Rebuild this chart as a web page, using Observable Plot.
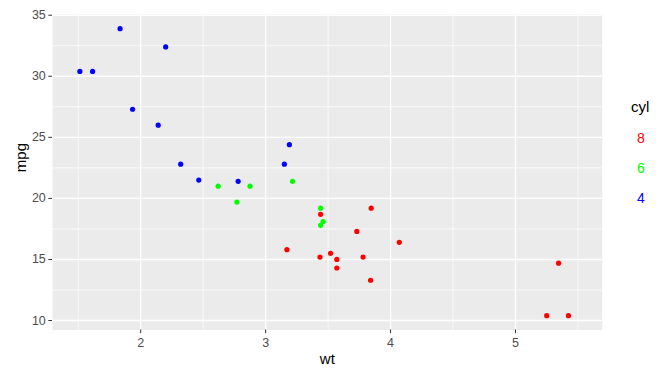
<!DOCTYPE html>
<html>
<head>
<meta charset="utf-8">
<script src="https://cdn.jsdelivr.net/npm/d3@7"></script>
<script src="https://cdn.jsdelivr.net/npm/@observablehq/plot@0.6"></script>
<style>
  html, body { margin: 0; padding: 0; background: white; }
  #wrap { position: relative; width: 669px; height: 380px; }
  .leg { position: absolute; font-family: 'Liberation Sans', Arial, sans-serif; white-space: nowrap; }
</style>
</head>
<body>
<div id="wrap"></div>
<script>
const wt  = [2.620, 2.875, 2.320, 3.215, 3.440, 3.460, 3.570, 3.190, 3.150, 3.440, 3.440, 4.070, 3.730, 3.780, 5.250, 5.424, 5.345, 2.200, 1.615, 1.835, 2.465, 3.520, 3.435, 3.840, 3.845, 1.935, 2.140, 1.513, 3.170, 2.770, 3.570, 2.780];
const mpg = [21.0, 21.0, 22.8, 21.4, 18.7, 18.1, 14.3, 24.4, 22.8, 19.2, 17.8, 16.4, 17.3, 15.2, 10.4, 10.4, 14.7, 32.4, 30.4, 33.9, 21.5, 15.5, 15.2, 13.3, 19.2, 27.3, 26.0, 30.4, 15.8, 19.7, 15.0, 21.4];
const cyl = [6, 6, 4, 6, 8, 6, 8, 4, 4, 6, 6, 8, 8, 8, 8, 8, 8, 4, 4, 4, 4, 8, 8, 8, 8, 4, 4, 4, 8, 6, 8, 4];

const xTicks = [2, 3, 4, 5];
const xMinor = [1.5, 2.5, 3.5, 4.5, 5.5];
const yTicks = [10, 15, 20, 25, 30, 35];
const yMinor = [12.5, 17.5, 22.5, 27.5, 32.5];

const legendTitle = "cyl";
const legendLabels = ["8", "6", "4"];
const colorDomain = ["4", "6", "8"];
const colorRange = ["#0000FF", "#00FF00", "#FF0000"];

const data = wt.map((w, i) => ({wt: w, mpg: mpg[i], cyl: String(cyl[i])}));

const chart = Plot.plot({
  width: 669,
  height: 380,
  marginLeft: 52,
  marginRight: 67.3,
  marginTop: 13.8,
  marginBottom: 50.5,
  x: {domain: [1.294, 5.694]},
  y: {domain: [9.225, 35.075]},
  color: {domain: colorDomain, range: colorRange},
  style: {fontFamily: "'Liberation Sans', Arial, sans-serif", fontSize: "12.5px", background: "white", overflow: "visible"},
  marks: [
    Plot.frame({fill: "#EBEBEB", stroke: null}),
    Plot.ruleX(xMinor, {stroke: "white", strokeWidth: 0.7}),
    Plot.ruleY(yMinor, {stroke: "white", strokeWidth: 0.7}),
    Plot.ruleX(xTicks, {stroke: "white", strokeWidth: 1.4}),
    Plot.ruleY(yTicks, {stroke: "white", strokeWidth: 1.4}),
    Plot.dot(data, {x: "wt", y: "mpg", fill: "cyl", r: 2.6, stroke: null}),
    Plot.axisX(xTicks, {tickSize: 3.7, tickPadding: 4, stroke: "#333333", fill: "#4D4D4D", label: null, strokeWidth: 1, tickFormat: d => String(d)}),
    Plot.axisY(yTicks, {tickSize: 3.7, tickPadding: 3, stroke: "#333333", fill: "#4D4D4D", label: null, strokeWidth: 1, tickFormat: d => String(d)}),
    Plot.text(["wt"], {frameAnchor: "bottom", dy: 29, fontSize: 15, fill: "black", lineAnchor: "middle"}),
    Plot.text(["mpg"], {frameAnchor: "left", dx: -31, rotate: -90, fontSize: 15, fill: "black", lineAnchor: "middle"})
  ]
});

const wrap = document.getElementById("wrap");
wrap.appendChild(chart);

const colorOf = d3.scaleOrdinal(colorDomain, colorRange);
const title = document.createElement("div");
title.className = "leg";
title.textContent = legendTitle;
title.style.cssText = "left:631px; top:98px; font-size:15px; color:black;";
wrap.appendChild(title);
legendLabels.forEach((lab, i) => {
  const el = document.createElement("div");
  el.className = "leg";
  el.textContent = lab;
  el.style.cssText = `left:637px; top:${129.5 + i * 30.3}px; font-size:14px; color:${colorOf(lab)};`;
  wrap.appendChild(el);
});
</script>
</body>
</html>
